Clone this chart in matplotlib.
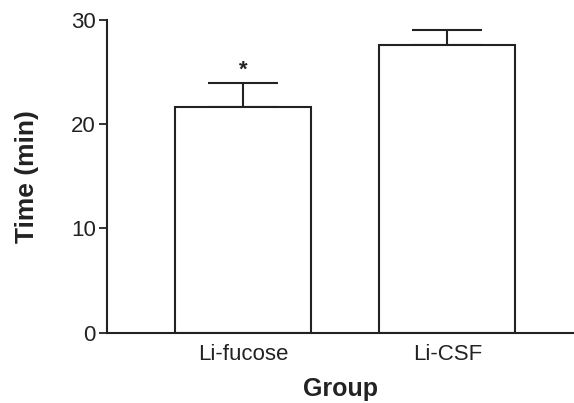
import numpy as np
import matplotlib.pyplot as plt

# data
groups = ["Li-fucose", "Li-CSF"]
means = [21.6, 27.6]
errors = [2.3, 1.4]
signif = ["*", ""]
yticks = [0, 10, 20, 30]

plt.rcParams["font.family"] = ["Liberation Sans", "DejaVu Sans"]
ink = "#222222"

fig = plt.figure(figsize=(5.74, 4.03), dpi=100)
ax = fig.add_axes([0.1864, 0.1744, 0.8136, 0.7765])

x = np.arange(len(groups))
ax.bar(x, means, width=0.667, color="white", edgecolor=ink, linewidth=1.5, zorder=2)
ax.errorbar(x, means, yerr=[np.zeros(len(errors)), errors], fmt="none",
            ecolor=ink, elinewidth=1.5, capsize=25, capthick=1.5, zorder=1)

for xi, m, e, s in zip(x, means, errors, signif):
    if s:
        ax.text(xi, m + e + 0.3, s, ha="center", va="bottom", fontsize=16,
                fontweight="bold", color=ink)

ax.set_xlim(-0.667, 1.62)
ax.set_ylim(0, 30)
ax.set_yticks(yticks)
ax.set_xticks(x)
ax.set_xticklabels(groups)

for side in ["top", "right"]:
    ax.spines[side].set_visible(False)
for side in ["left", "bottom"]:
    ax.spines[side].set_linewidth(1.5)
    ax.spines[side].set_color(ink)

ax.tick_params(axis="y", length=6, width=1.3, colors=ink, labelsize=16, pad=2)
ax.tick_params(axis="x", length=0, colors=ink, labelsize=16, pad=8)

ax.set_xlabel("Group", fontsize=18, fontweight="bold", color=ink, labelpad=9)
ax.set_ylabel("Time (min)", fontsize=19, fontweight="bold", color=ink, labelpad=23)

fig.savefig("out.png", dpi=100)
